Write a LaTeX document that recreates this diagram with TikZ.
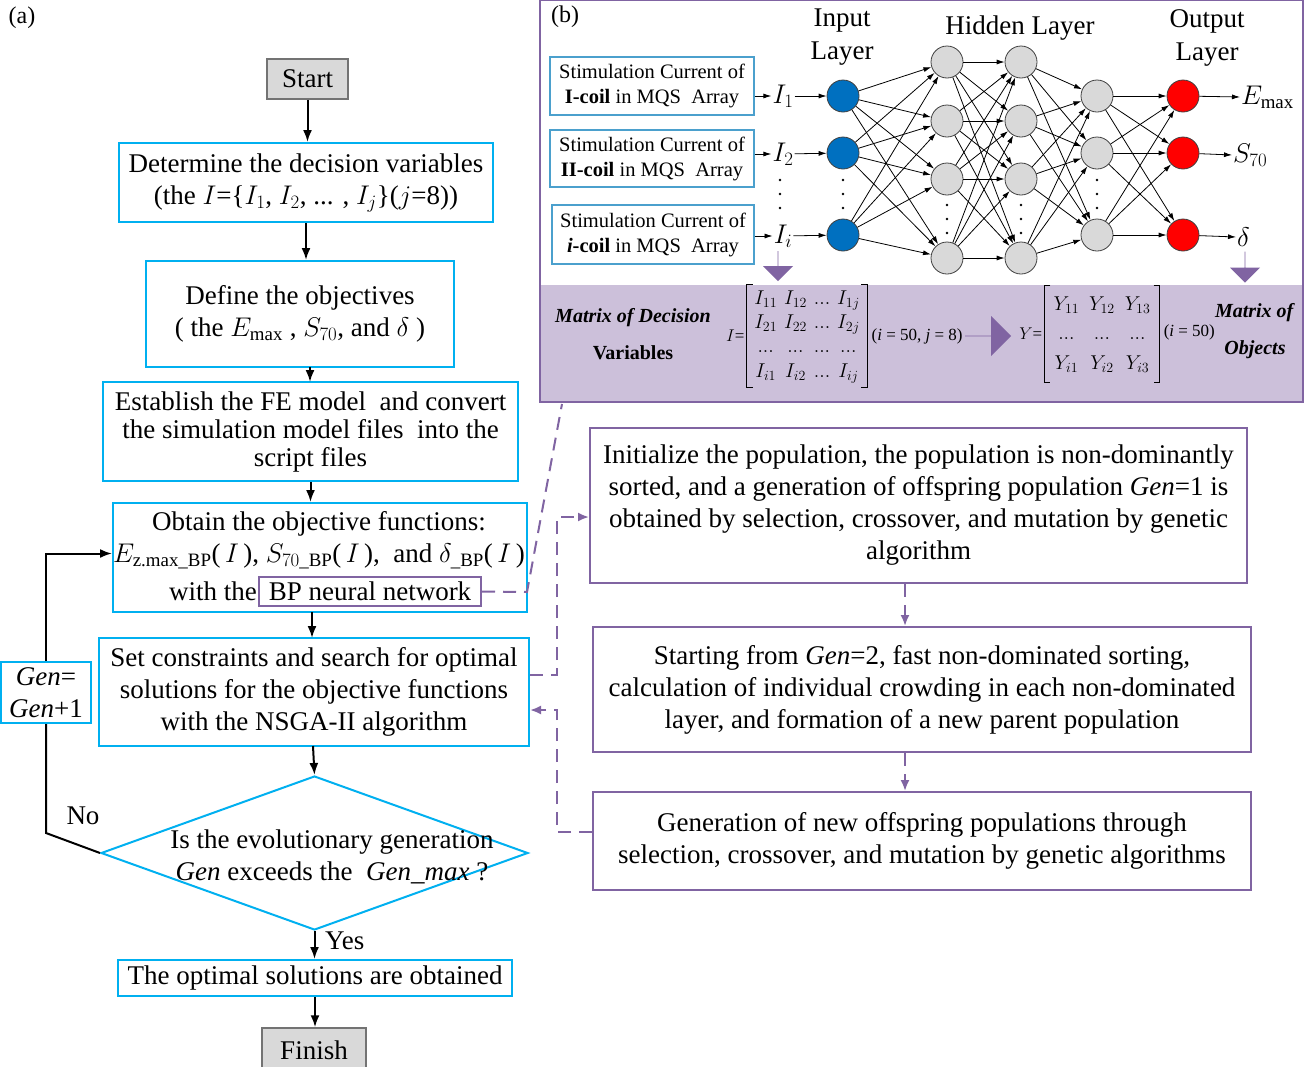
\RequirePackage{fix-cm}
\documentclass[tikz,border=0pt]{standalone}
\usepackage{amsmath}
\usepackage{fontspec}
\setmainfont{Liberation Serif}
\usepackage{tikz}
\usetikzlibrary{shapes.geometric,shapes.arrows,arrows.meta,positioning}
\definecolor{boxcyan}{RGB}{0,176,240}
\definecolor{gapurple}{RGB}{128,100,162}
\definecolor{bandpurple}{RGB}{204,192,218}
\definecolor{nodegray}{RGB}{217,217,217}
\definecolor{inblue}{RGB}{0,112,192}
\definecolor{srcblue}{RGB}{75,160,205}
\newcommand{\fsL}{\fontsize{27}{32}\selectfont}
\newcommand{\fsE}{\fontsize{27}{28}\selectfont}
\newcommand{\fsS}{\fontsize{20.5}{25}\selectfont}
\newcommand{\fsB}{\fontsize{20}{37}\selectfont}
\newcommand{\fsT}{\fontsize{20}{23}\selectfont}
\newcommand{\fsC}{\fontsize{17}{20}\selectfont}
\tikzstyle{flowbox}=[draw=boxcyan, line width=2pt, fill=white, align=center, inner sep=0pt, font=\fsL]
\tikzstyle{termbox}=[draw=black!55, line width=1.5pt, fill=nodegray, align=center, inner sep=0pt, font=\fsL]
\tikzstyle{decision}=[diamond, draw=boxcyan, line width=2pt, inner sep=0pt]
\tikzstyle{gabox}=[draw=gapurple, line width=2pt, align=center, inner sep=0pt, font=\fsL]
\tikzstyle{srcbox}=[draw=srcblue, line width=1.5pt, align=center, inner sep=0pt, font=\fsS]
\tikzstyle{neuron}=[circle, draw=black!75, line width=0.8pt, minimum size=32pt, inner sep=0pt]
\tikzstyle{flow}=[draw=black, line width=2pt, -{Latex[length=12pt,width=9pt]}]
\tikzstyle{flowline}=[draw=black, line width=2pt]
\tikzstyle{synapse}=[draw=black, line width=0.8pt, -{Latex[length=8pt,width=5pt]}]
\tikzstyle{gadash}=[draw=gapurple, line width=2pt, dash pattern=on 13pt off 8pt]
\tikzstyle{gaflow}=[gadash, -{Latex[length=11pt,width=9pt]}]
\tikzstyle{blockarrow}=[single arrow, fill=gapurple, inner sep=0pt]
\tikzstyle{bracket}=[draw=black, line width=1pt]

\begin{document}
\begin{tikzpicture}[x=1pt, y=-1pt]
  \path[use as bounding box, fill=white] (0,0) rectangle (1308,1066);

  % panel (b): background and band
  \fill[bandpurple] (540,285) rectangle (1303,402);
  \draw[draw=gapurple, line width=2pt] (540,0) rectangle (1303,402);
  \node[font=\fontsize{24}{28}\selectfont] (lbla) at (22,18) {(a)};
  \node[font=\fontsize{24}{28}\selectfont] (lblb) at (565,17) {(b)};

  % flowchart (a)
  \node[termbox, minimum width=81pt, minimum height=40pt] (start) at (307.5,79) {Start};
  \node[flowbox, minimum width=374pt, minimum height=79pt] (decvar) at (306,182.5)
       {Determine the decision variables\\(the $I$=\{$I_{1}$, $I_{2}$, ... , $I_{j}$\}($j$=8))};
  \node[flowbox, minimum width=308pt, minimum height=106pt] (objs) at (300,314)
       {Define the objectives\\( the $E_{\max}$ , $S_{70}$, and $\delta$ )};
  \node[flowbox, font=\fsE, minimum width=415pt, minimum height=99pt] (femodel) at (310.5,431.5)
       {Establish the FE model ~and convert\\the simulation model files ~into the\\script files};
  \node[flowbox, minimum width=414pt, minimum height=109pt] (objfun) at (320,557.5) {};
  \node[font=\fsL, align=center, inner sep=0pt] (objtext) at (319,540)
       {Obtain the objective functions:\\$E_{\text{z.max\_BP}}$(\,$I$\,), $S_{70\text{\_BP}}$(\,$I$\,), ~and $\delta_{\text{\_BP}}$(\,$I$\,)};
  \node[font=\fsL, anchor=base east, inner sep=0pt] (withthe) at (257,600) {with the};
  \node[gabox, minimum width=222pt, minimum height=29pt] (bpnet) at (370,591.5) {BP neural network};
  \node[flowbox, minimum width=430pt, minimum height=108pt] (nsga) at (314,692)
       {Set constraints and search for optimal\\solutions for the objective functions\\with the NSGA-II algorithm};
  \node[decision, minimum width=427pt, minimum height=154pt] (gencheck) at (314.5,853) {};
  \node[font=\fsL, align=center, inner sep=0pt] (gentext) at (332,857)
       {Is the evolutionary generation\\\textit{Gen} exceeds the ~\textit{Gen\_max} ?};
  \node[flowbox, minimum width=394pt, minimum height=36pt] (optsol) at (315,978) {The optimal solutions are obtained};
  \node[termbox, minimum width=104pt, minimum height=44pt] (finish) at (314,1050) {Finish};
  \node[flowbox, minimum width=90pt, minimum height=61pt] (genup) at (46,692.5) {\textit{Gen}=\\\textit{Gen}+1};
  \node[font=\fsL, anchor=west, inner sep=0pt] (yes) at (325,941) {Yes};
  \node[font=\fsL, inner sep=0pt] (no) at (83,816) {No};

  \draw[flow] (start.south) -- (start.south |- decvar.north);
  \draw[flow] (decvar.south) -- (decvar.south |- objs.north);
  \draw[flow] (310,367) -- (310,382);
  \draw[flow] (femodel.south) -- (femodel.south |- objfun.north);
  \draw[flow] (312,612) -- (312,638);
  \draw[flow] (313,746) -- (gencheck.north);
  \draw[flow] (gencheck.south) -- (gencheck.south |- optsol.north);
  \draw[flow] (optsol.south) -- (optsol.south |- finish.north);
  \draw[flowline] (gencheck.west) -- (46,833) -- (genup.south);
  \draw[flow] (genup.north) |- ([yshift=4pt]objfun.west);

  % GA steps
  \node[gabox, minimum width=657pt, minimum height=155pt] (initpop) at (918.5,505.5)
       {Initialize the population, the population is non-dominantly\\sorted, and a generation of offspring population \textit{Gen}=1 is\\obtained by selection, crossover, and mutation by genetic\\algorithm};
  \node[gabox, minimum width=658pt, minimum height=125pt] (sortpop) at (922,689.5)
       {Starting from \textit{Gen}=2, fast non-dominated sorting,\\calculation of individual crowding in each non-dominated\\layer, and formation of a new parent population};
  \node[gabox, minimum width=658pt, minimum height=98pt] (offspring) at (922,841)
       {Generation of new offspring populations through\\selection, crossover, and mutation by genetic algorithms};
  \coordinate (gax) at (905,0);
  \draw[gaflow] (initpop.south -| gax) -- (sortpop.north -| gax);
  \draw[gaflow] (sortpop.south -| gax) -- (offspring.north -| gax);
  \draw[gaflow] ([yshift=17pt]nsga.east) -- (557,675) -- (557,517) -- ([yshift=-11.5pt]initpop.west);
  \draw[gaflow] ([yshift=9pt]offspring.west) -- (557,832) -- (557,710) -- ([yshift=-18pt]nsga.east);
  \draw[gadash] (bpnet.east) -- (527,592) -- (562,404);

  % BP network
  \node[srcbox, minimum width=204pt, minimum height=58pt] (src1) at (652,86)
       {Stimulation Current of\\\textbf{I-coil} in MQS ~Array};
  \node[srcbox, minimum width=204pt, minimum height=57pt] (src2) at (652,158.5)
       {Stimulation Current of\\\textbf{II-coil} in MQS ~Array};
  \node[srcbox, minimum width=202pt, minimum height=59pt] (src3) at (653,234.5)
       {Stimulation Current of\\\textbf{\textit{i}-coil} in MQS ~Array};
  \node[font=\fsL, inner sep=1pt] (in1) at (783,96) {$I_{1}$};
  \node[font=\fsL, inner sep=1pt] (in2) at (783,154) {$I_{2}$};
  \node[font=\fsL, inner sep=1pt] (in3) at (783,236) {$I_{i}$};
  \foreach \i/\y in {1/96,2/153,3/235} {
    \node[neuron, fill=inblue] (x\i) at (843,\y) {};
    \node[neuron, fill=nodegray] (c\i) at (1097,\y) {};
    \node[neuron, fill=red] (o\i) at (1183,\y) {};
    \draw[synapse] (src\i.east |- in\i) -- (in\i);
    \draw[synapse] (in\i) -- (x\i);
  }
  \foreach \i/\y in {1/62,2/121,3/179,4/258} {
    \node[neuron, fill=nodegray] (a\i) at (947,\y) {};
    \node[neuron, fill=nodegray] (b\i) at (1021,\y) {};
  }
  \foreach \i in {1,2,3} \foreach \j in {1,...,4} \draw[synapse] (x\i) -- (a\j);
  \foreach \i in {1,...,4} \foreach \j in {1,...,4} \draw[synapse] (a\i) -- (b\j);
  \foreach \i in {1,...,4} \foreach \j in {1,2,3} \draw[synapse] (b\i) -- (c\j);
  \foreach \i in {1,2,3} \foreach \j in {1,2,3} \draw[synapse] (c\i) -- (o\j);
  \foreach \x/\y in {780/180,780/194,780/208,843/180,843/194,843/208,
                     947/205,947/219,947/233,1021/205,1021/219,1021/233,
                     1097/180,1097/194,1097/208}
    \fill (\x,\y) circle (1.3pt);
  \node[font=\fsL, anchor=west, inner sep=1pt] (emax) at (1240,97) {$E_{\max}$};
  \node[font=\fsL, anchor=west, inner sep=1pt] (s70) at (1232,155) {$S_{70}$};
  \node[font=\fsL, anchor=west, inner sep=1pt] (dlt) at (1236,237) {$\delta$};
  \draw[synapse] (o1) -- (emax.west);
  \draw[synapse] (o2) -- (s70.west);
  \draw[synapse] (o3) -- (dlt.west);
  \node[font=\fontsize{27}{33}\selectfont, align=center] (inlayer) at (842,37) {Input\\Layer};
  \node[font=\fsL] (hidlayer) at (1020,28) {Hidden Layer};
  \node[font=\fontsize{27}{33}\selectfont, align=center] (outlayer) at (1207,38) {Output\\Layer};

  % matrices band
  \node[blockarrow, minimum height=30pt, minimum width=30pt, single arrow head extend=7pt, rotate=-90] (downin) at (778,266) {};
  \node[blockarrow, minimum height=31pt, minimum width=30pt, single arrow head extend=7pt, rotate=-90] (downout) at (1245,267) {};
  \node[font=\fsB, align=center] (matdec) at (633,334)
       {\textbf{\textit{Matrix of Decision}}\\\textbf{Variables}};
  \node[font=\fsT, inner xsep=4pt, inner ysep=3pt] (imat) at (807,336)
       {$\arraycolsep=3.5pt\renewcommand{\arraystretch}{1.05}\begin{array}{cccc} I_{11} & I_{12} & ... & I_{1j}\\ I_{21} & I_{22} & ... & I_{2j}\\ ... & ... & ... & ...\\ I_{i1} & I_{i2} & ... & I_{ij}\end{array}$};
  \draw[bracket] ([xshift=6pt]imat.north west) -- (imat.north west) -- (imat.south west) -- ([xshift=6pt]imat.south west);
  \draw[bracket] ([xshift=-6pt]imat.north east) -- (imat.north east) -- (imat.south east) -- ([xshift=-6pt]imat.south east);
  \node[font=\fsC, anchor=east, inner sep=0pt] (ieq) at ([xshift=-2pt]imat.west) {$I$=};
  \node[font=\fsC, anchor=west, inner sep=0pt] (icond) at ([xshift=4pt]imat.east) {(\textit{i} = 50, \textit{j} = 8)};
  \node[blockarrow, minimum height=46pt, minimum width=40pt, single arrow head extend=9pt] (toright) at (988,336) {};
  \node[font=\fsT, inner xsep=4pt, inner ysep=3pt] (ymat) at (1102,334)
       {$\arraycolsep=5pt\renewcommand{\arraystretch}{1.3}\begin{array}{ccc} Y_{11} & Y_{12} & Y_{13}\\ ... & ... & ...\\ Y_{i1} & Y_{i2} & Y_{i3}\end{array}$};
  \draw[bracket] ([xshift=6pt]ymat.north west) -- (ymat.north west) -- (ymat.south west) -- ([xshift=6pt]ymat.south west);
  \draw[bracket] ([xshift=-6pt]ymat.north east) -- (ymat.north east) -- (ymat.south east) -- ([xshift=-6pt]ymat.south east);
  \node[font=\fsC, anchor=east, inner sep=0pt] (yeq) at ([xshift=-2pt]ymat.west) {$Y$=};
  \node[font=\fsC, anchor=west, inner sep=0pt] (ycond) at ([xshift=4pt,yshift=2pt]ymat.east) {(\textit{i} = 50)};
  \node[font=\fsB, align=center] (matobj) at (1255,331)
       {\textbf{\textit{Matrix of}}\\\textbf{\textit{Objects}}};
\end{tikzpicture}
\end{document}
